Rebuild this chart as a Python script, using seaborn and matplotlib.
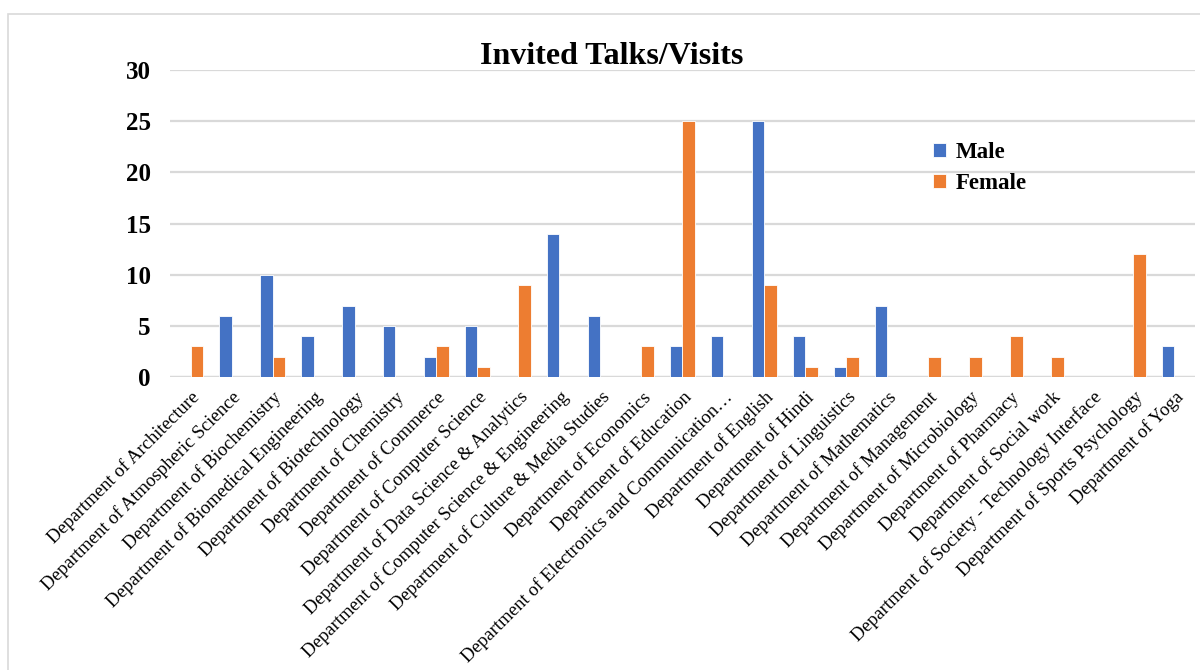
import matplotlib
matplotlib.use("Agg")
import matplotlib.pyplot as plt
import matplotlib.patches as mpatches
import pandas as pd
import seaborn as sns

# data
departments = [
    "Department of Architecture",
    "Department of Atmospheric Science",
    "Department of Biochemistry",
    "Department of Biomedical Engineering",
    "Department of Biotechnology",
    "Department of Chemistry",
    "Department of Commerce",
    "Department of Computer Science",
    "Department of Data Science & Analytics",
    "Department of Computer Science & Engineering",
    "Department of Culture & Media Studies",
    "Department of Economics",
    "Department of Education",
    "Department of Electronics and Communication…",
    "Department of English",
    "Department of Hindi",
    "Department of Linguistics",
    "Department of Mathematics",
    "Department of Management",
    "Department of Microbiology",
    "Department of Pharmacy",
    "Department of Social work",
    "Department of Society - Technology Interface",
    "Department of Sports Psychology",
    "Department of Yoga",
]
male = [0, 6, 10, 4, 7, 5, 2, 5, 0, 14, 6, 0, 3, 4, 25, 4, 1, 7, 0, 0, 0, 0, 0, 0, 3]
female = [3, 0, 2, 0, 0, 0, 3, 1, 9, 0, 0, 3, 25, 0, 9, 1, 2, 0, 2, 2, 4, 2, 0, 12, 0]

df = pd.DataFrame({
    "Department": departments * 2,
    "Count": male + female,
    "Gender": ["Male"] * len(departments) + ["Female"] * len(departments),
})

sns.set_style("white")
plt.rcParams["font.family"] = ["Liberation Serif", "DejaVu Serif"]
plt.rcParams["text.color"] = "black"
plt.rcParams["xtick.color"] = "black"
plt.rcParams["ytick.color"] = "black"

fig = plt.figure(figsize=(12, 6.7), dpi=100)
ax = fig.add_axes([0.1417, 0.437, 0.854, 0.4585])

sns.barplot(data=df, x="Department", y="Count", hue="Gender",
            palette={"Male": "#4472C4", "Female": "#ED7D31"}, saturation=1,
            width=0.6, edgecolor="white", linewidth=0.6, ax=ax, zorder=3)

ax.set_ylim(0, 30)
ax.set_yticks(range(0, 31, 5))
ax.set_xlim(-0.5, len(departments) - 0.5)
ax.yaxis.grid(True, color="#D9D9D9", linewidth=1.6, zorder=0)
ax.set_axisbelow(True)
for s in ax.spines.values():
    s.set_visible(False)
ax.axhline(0, color="#D9D9D9", linewidth=1.6, zorder=1)
ax.set_xlabel("")
ax.set_ylabel("")
ax.tick_params(axis="both", length=0, labelcolor="black")
for lbl in ax.get_yticklabels():
    lbl.set_fontsize(18)
    lbl.set_fontweight("bold")
ax.set_xticks(range(len(departments)))
ax.set_xticklabels(departments, rotation=45, ha="right", rotation_mode="anchor",
                   fontsize=13.5)
ax.tick_params(axis="x", pad=8)
ax.tick_params(axis="y", pad=14)

fig.text(0.51, 0.916, "Invited Talks/Visits", ha="center", va="center",
         fontsize=23, fontweight="bold", color="black")

leg = ax.legend(loc="upper left", bbox_to_anchor=(0.736, 0.795), frameon=False,
                prop={"size": 16.5, "weight": "bold"}, handlelength=0.55,
                handleheight=0.55, handletextpad=0.4, labelspacing=0.45,
                borderaxespad=0)
for t in leg.get_texts():
    t.set_color("black")

# chart frame
fig.patches.append(mpatches.Rectangle((8 / 1200, -0.05), 1.2, 1.05 - 14 / 670,
                                      transform=fig.transFigure, fill=False,
                                      edgecolor="#D9D9D9", linewidth=1.2))

fig.savefig("out.png", dpi=100)
